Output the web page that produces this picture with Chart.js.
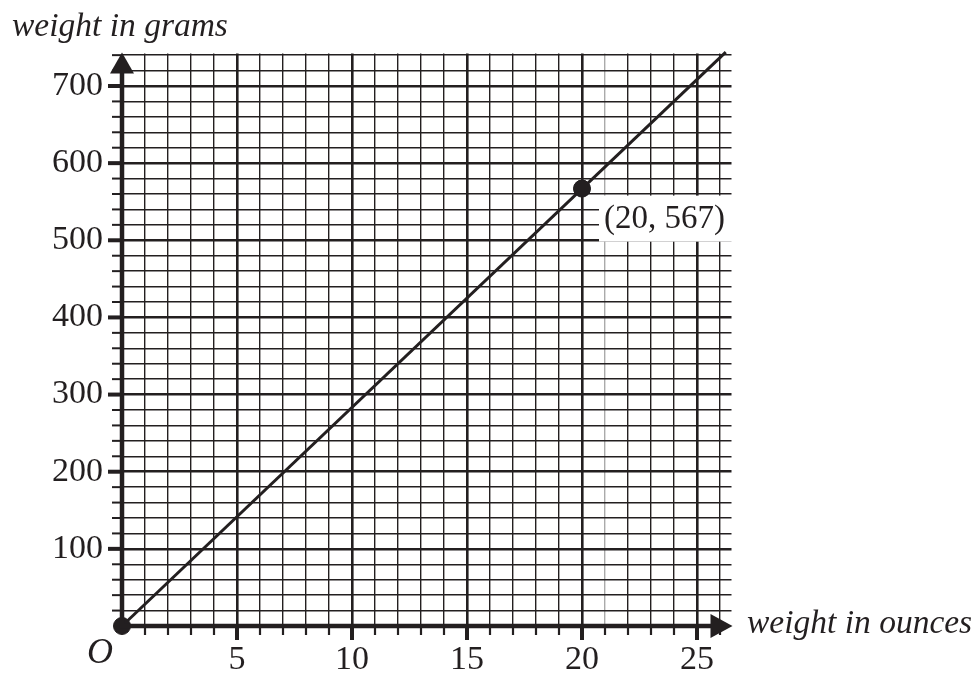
<!DOCTYPE html>
<html>
<head>
<meta charset="utf-8">
<script src="https://cdn.jsdelivr.net/npm/chart.js@4"></script>
<style>
  html, body { margin: 0; padding: 0; background: #fff; }
  canvas { display: block; }
</style>
</head>
<body>
<canvas id="chart" width="976" height="686"></canvas>
<script>
// conversion line, ounces -> grams
const lineOunces = [0, 26.25];
const lineGrams = [0, 744];

// marked points
const pointOunces = [0, 20];
const pointGrams = [0, 567];
const pointLabel = '(20, 567)';

const xTickLabels = [5, 10, 15, 20, 25];
const yTickLabels = [100, 200, 300, 400, 500, 600, 700];

const ink = '#231f20';
const serif = '"Liberation Serif", "DejaVu Serif", serif';

const axesPlugin = {
    id: 'axesPlugin',
    afterDraw(chart) {
        const ctx = chart.ctx;
        const xs = chart.scales.x;
        const ys = chart.scales.y;
        const x0 = xs.getPixelForValue(0);
        const y0 = ys.getPixelForValue(0);
        const top = chart.chartArea.top;
        const right = chart.chartArea.right;

        ctx.save();
        ctx.strokeStyle = ink;
        ctx.fillStyle = ink;

        // tick marks on y axis
        ys.ticks.forEach(t => {
            if (t.value <= 0) return;
            const y = ys.getPixelForValue(t.value);
            const major = t.value % 100 === 0;
            ctx.lineWidth = major ? 4 : 2;
            ctx.beginPath();
            ctx.moveTo(major ? x0 - 14 : x0 - 10, y);
            ctx.lineTo(x0, y);
            ctx.stroke();
        });

        // tick marks on x axis
        xs.ticks.forEach(t => {
            if (t.value <= 0) return;
            const x = xs.getPixelForValue(t.value);
            const major = t.value % 5 === 0;
            ctx.lineWidth = major ? 4 : 2.2;
            ctx.beginPath();
            ctx.moveTo(x, y0);
            ctx.lineTo(x, major ? y0 + 14 : y0 + 9);
            ctx.stroke();
        });

        // axis lines
        ctx.lineWidth = 4.5;
        ctx.beginPath();
        ctx.moveTo(x0, y0 + 2);
        ctx.lineTo(x0, top + 18);
        ctx.moveTo(x0 - 2, y0);
        ctx.lineTo(right - 20, y0);
        ctx.stroke();

        // arrow heads
        ctx.beginPath();
        ctx.moveTo(x0, top - 1);
        ctx.lineTo(x0 - 12, top + 20);
        ctx.lineTo(x0 + 12, top + 20);
        ctx.closePath();
        ctx.fill();
        ctx.beginPath();
        ctx.moveTo(right + 1, y0);
        ctx.lineTo(right - 21, y0 - 12);
        ctx.lineTo(right - 21, y0 + 12);
        ctx.closePath();
        ctx.fill();

        // axis titles and origin
        ctx.font = 'italic 33.5px ' + serif;
        ctx.textBaseline = 'alphabetic';
        ctx.textAlign = 'left';
        ctx.fillText('weight in grams', 12, 36);
        ctx.fillText('weight in ounces', 747, 633);
        ctx.font = 'italic 36px ' + serif;
        ctx.fillText('O', 87, 663);

        // label for the marked point, white box reaching the grid edge
        const px = xs.getPixelForValue(pointOunces[1]);
        const py = ys.getPixelForValue(pointGrams[1]);
        ctx.fillStyle = '#fff';
        ctx.fillRect(px + 17, py + 7, right + 3 - (px + 17), 46);
        ctx.font = '33px ' + serif;
        ctx.fillStyle = ink;
        ctx.textBaseline = 'middle';
        ctx.fillText(pointLabel, px + 22, py + 31);

        // redraw the point on top
        ctx.beginPath();
        ctx.arc(px, py, 8.5, 0, Math.PI * 2);
        ctx.fill();
        ctx.restore();
    }
};

new Chart(document.getElementById('chart'), {
    type: 'scatter',
    data: {
        datasets: [
            {
                type: 'line',
                data: lineOunces.map((x, i) => ({ x: x, y: lineGrams[i] })),
                borderColor: ink,
                borderWidth: 3,
                pointRadius: 0,
                clip: false
            },
            {
                data: pointOunces.map((x, i) => ({ x: x, y: pointGrams[i] })),
                backgroundColor: ink,
                borderColor: ink,
                pointRadius: 8.5,
                clip: false
            }
        ]
    },
    options: {
        responsive: false,
        animation: false,
        events: [],
        layout: { padding: { top: 53.6, right: 244.5, left: 0, bottom: 0 } },
        plugins: {
            legend: { display: false },
            tooltip: { enabled: false }
        },
        scales: {
            x: {
                type: 'linear',
                min: 0,
                max: 26.5,
                afterFit: s => { s.height = 60; },
                border: { display: false },
                grid: {
                    drawTicks: false,
                    color: c => {
                        const v = c.tick.value;
                        if (v === 0 || !Number.isInteger(v)) return 'rgba(0,0,0,0)';
                        return v === 21 ? '#aaaaaa' : ink;
                    },
                    lineWidth: c => (c.tick.value % 5 === 0 ? 2.6 : 1.4)
                },
                ticks: {
                    stepSize: 1,
                    includeBounds: false,
                    autoSkip: false,
                    maxRotation: 0,
                    padding: 14,
                    color: ink,
                    font: { family: serif, size: 34 },
                    callback: v => (xTickLabels.includes(v) ? String(v) : '')
                }
            },
            y: {
                type: 'linear',
                min: 0,
                max: 742,
                afterFit: s => { s.width = 122; },
                border: { display: false },
                grid: {
                    drawTicks: false,
                    color: c => (c.tick.value === 0 ? 'rgba(0,0,0,0)' : ink),
                    lineWidth: c => (c.tick.value % 100 === 0 ? 2.6 : 1.4)
                },
                ticks: {
                    stepSize: 20,
                    includeBounds: false,
                    autoSkip: false,
                    padding: 19,
                    color: ink,
                    font: { family: serif, size: 34 },
                    callback: v => (yTickLabels.includes(v) ? String(v) : '')
                }
            }
        }
    },
    plugins: [axesPlugin]
});
</script>
</body>
</html>
